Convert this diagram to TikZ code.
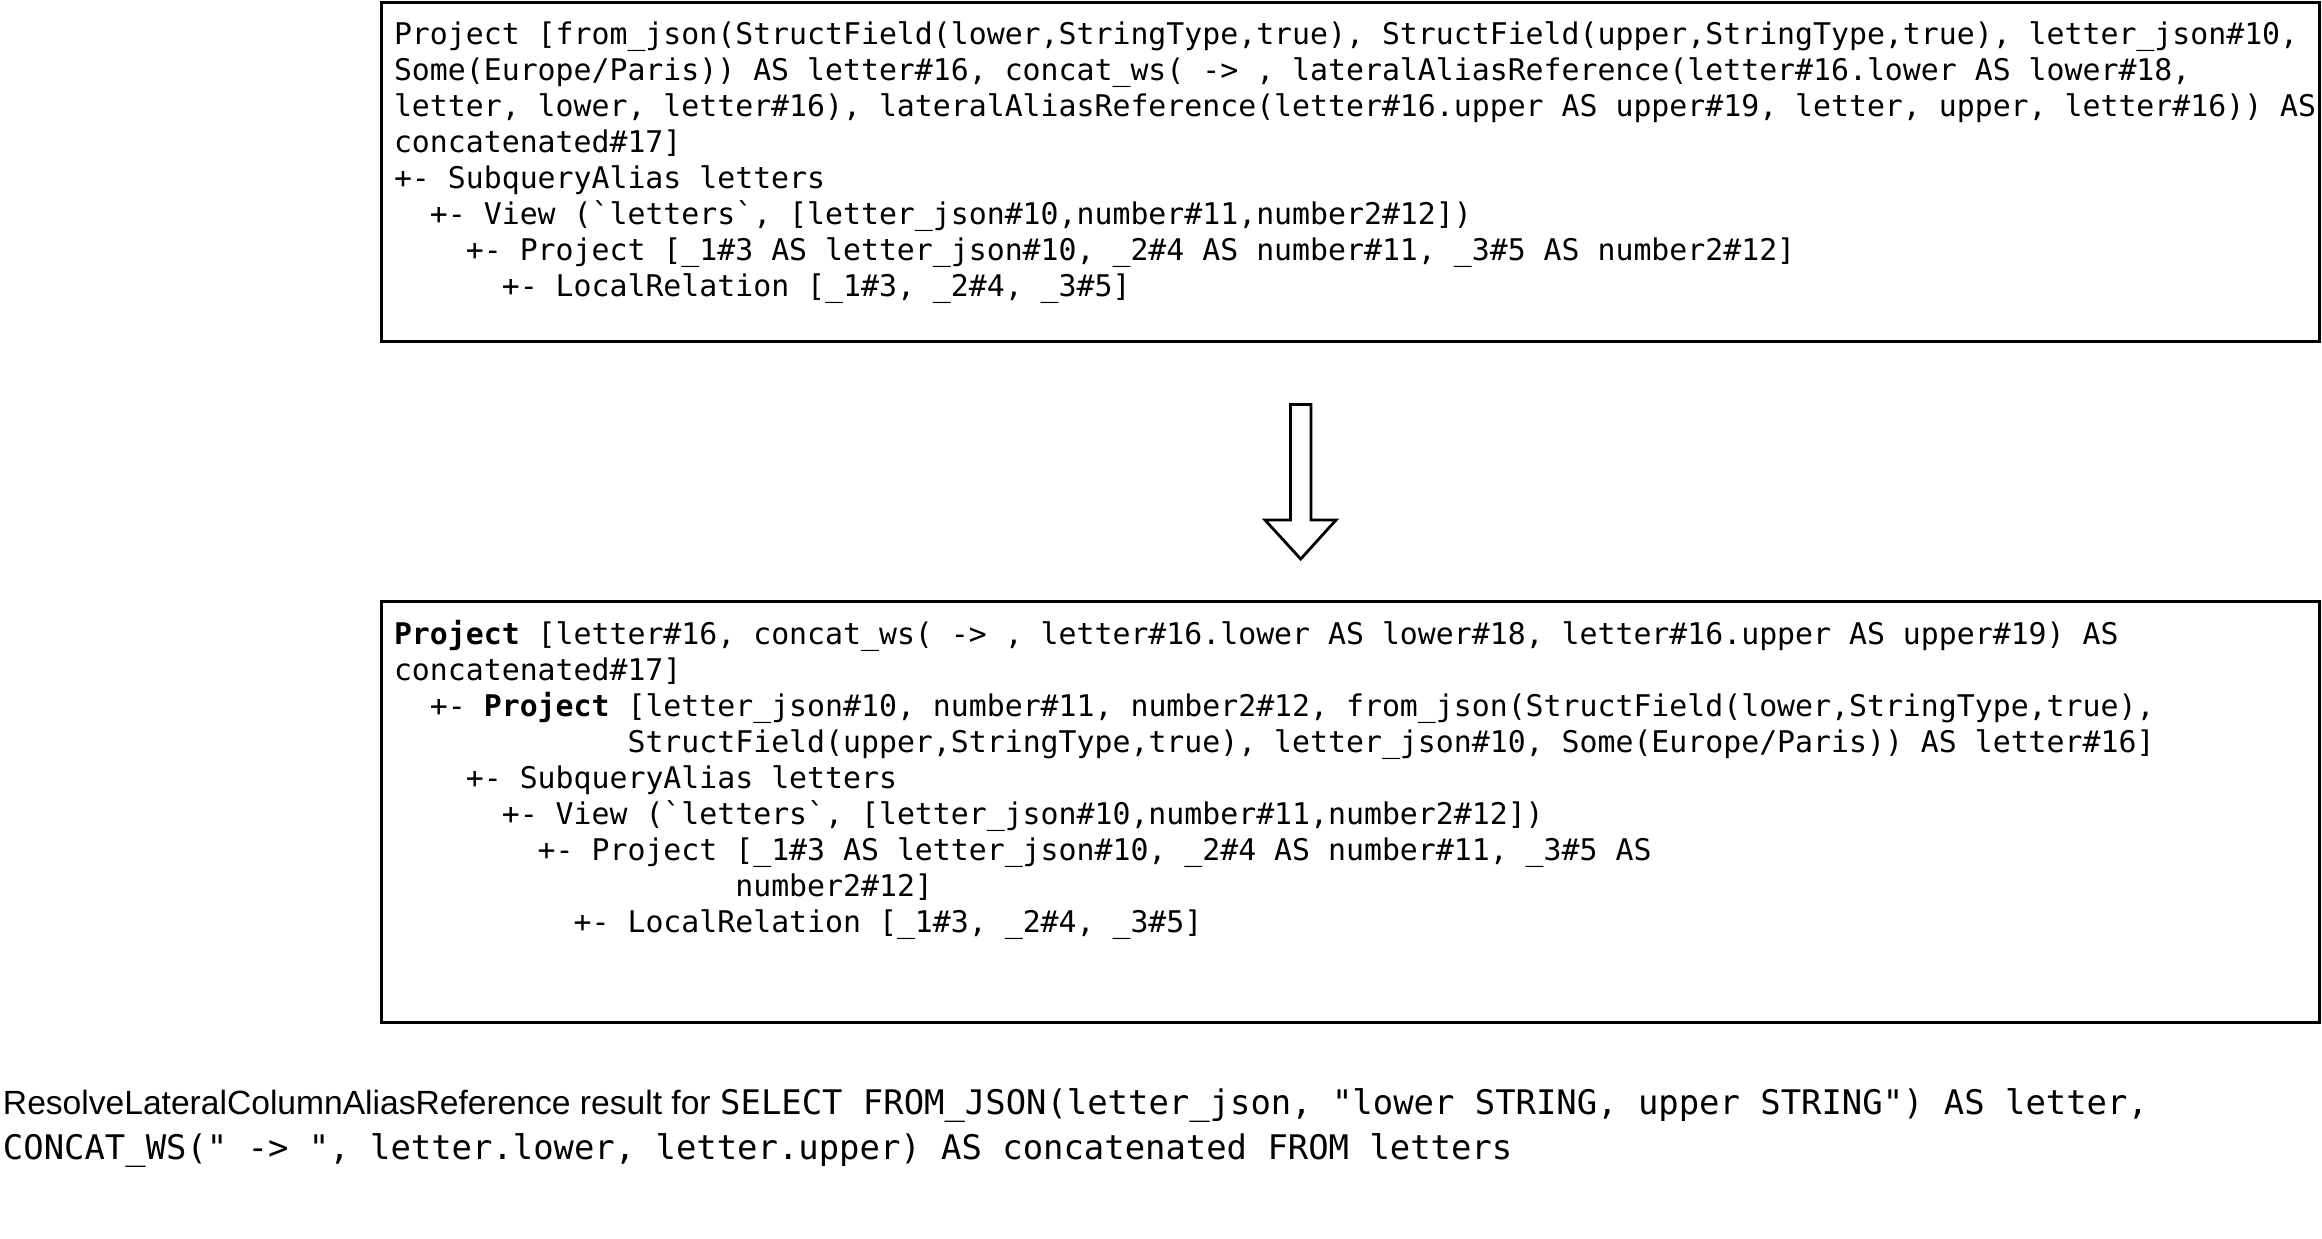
\documentclass[tikz,border=0pt]{standalone}
\usepackage{fontspec}
\setmainfont{Liberation Sans}
\setmonofont{DejaVu Sans Mono}
\newcommand\ind[1]{\hspace*{#1\fontcharwd\font`M}}
\newcommand\bt{\symbol{96}}
\begin{document}
\begin{tikzpicture}[x=0.5pt,y=-0.5pt,
  box/.style={draw,line width=1.5pt,inner sep=0pt,outer sep=0pt,anchor=north west,minimum width=968.75pt},
  code/.style={anchor=north west,inner sep=0pt,outer sep=0pt,align=left,font=\ttfamily\fontsize{14.92}{18.03}\selectfont},
  caption/.style={anchor=north west,inner sep=0pt,outer sep=0pt,align=left,font=\fontsize{16.94}{22.25}\selectfont},
  bigarrow/.style={draw,line width=1.4pt,line join=miter}]
\useasboundingbox (0,0) rectangle (2322,1238);

% boxes
\node[box,minimum height=169.75pt] (src) at (381.5,2) {};
\node[box,minimum height=210.4pt] (dst) at (381.5,601.7) {};

% top box text
\node[code] (srctext) at (394,18) {\rule{0pt}{13pt}Project [from\_json(StructField(lower,StringType,true), StructField(upper,StringType,true), letter\_json\#10,\\
Some(Europe/Paris)) AS letter\#16, concat\_ws( -> , lateralAliasReference(letter\#16.lower AS lower\#18,\\
letter, lower, letter\#16), lateralAliasReference(letter\#16.upper AS upper\#19, letter, upper, letter\#16)) AS\\
concatenated\#17]\\
+- SubqueryAlias letters\\
\ind{2}+- View (\bt letters\bt, [letter\_json\#10,number\#11,number2\#12])\\
\ind{4}+- Project [\_1\#3 AS letter\_json\#10, \_2\#4 AS number\#11, \_3\#5 AS number2\#12]\\
\ind{6}+- LocalRelation [\_1\#3, \_2\#4, \_3\#5]};

% bottom box text
\node[code] (dsttext) at (394,618) {\rule{0pt}{13pt}\textbf{Project} [letter\#16, concat\_ws( -> , letter\#16.lower AS lower\#18, letter\#16.upper AS upper\#19) AS\\
concatenated\#17]\\
\ind{2}+- \textbf{Project} [letter\_json\#10, number\#11, number2\#12, from\_json(StructField(lower,StringType,true),\\
\ind{13}StructField(upper,StringType,true), letter\_json\#10, Some(Europe/Paris)) AS letter\#16]\\
\ind{4}+- SubqueryAlias letters\\
\ind{6}+- View (\bt letters\bt, [letter\_json\#10,number\#11,number2\#12])\\
\ind{8}+- Project [\_1\#3 AS letter\_json\#10, \_2\#4 AS number\#11, \_3\#5 AS\\
\ind{19}number2\#12]\\
\ind{10}+- LocalRelation [\_1\#3, \_2\#4, \_3\#5]};

% arrow between the boxes
\coordinate (atop) at (1300.75,404.5);
\draw[bigarrow] (atop) ++(-10.25,0) -- ++(20.5,0) -- (1311,520) -- (1336,520) -- (1300.7,559) -- (1265,520) -- (1290.5,520) -- cycle;

% caption
\node[caption] (cap) at (3,1086.5) {\rule{0pt}{14pt}{\fontsize{16.8}{22.25}\selectfont ResolveLateralColumnAliasReference result for} {\ttfamily SELECT FROM\_JSON(letter\_json, "lower STRING, upper STRING") AS letter,}\\
{\ttfamily CONCAT\_WS(" -> ", letter.lower, letter.upper) AS concatenated FROM letters}};
\end{tikzpicture}
\end{document}
